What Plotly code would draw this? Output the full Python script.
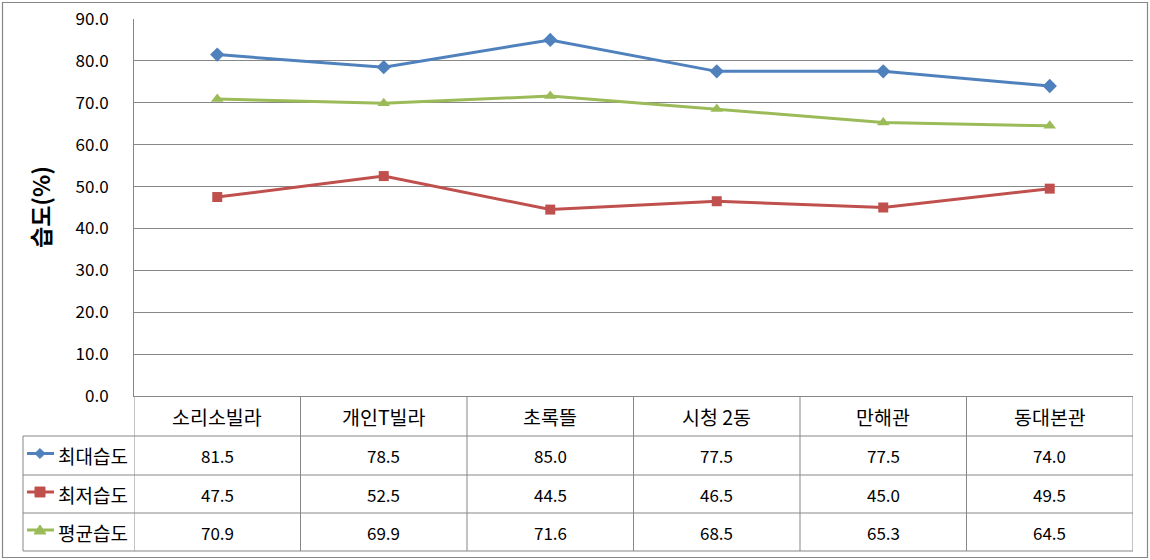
import plotly.graph_objects as go

categories = ["소리소빌라", "개인T빌라", "초록뜰", "시청 2동", "만해관", "동대본관"]
series_names = ["최대습도", "최저습도", "평균습도"]
max_humidity = [81.5, 78.5, 85.0, 77.5, 77.5, 74.0]
min_humidity = [47.5, 52.5, 44.5, 46.5, 45.0, 49.5]
avg_humidity = [70.9, 69.9, 71.6, 68.5, 65.3, 64.5]
y_tick_values = [0, 10, 20, 30, 40, 50, 60, 70, 80, 90]
y_title = "습도(%)"

W, H = 1150, 560
L, R, T, B = 134, 17, 19, 164
PW, PH = W - L - R, H - T - B
FONT = "Noto Sans CJK KR, Malgun Gothic, sans-serif"
GRID = "#878787"
colors = ["#4F81BD", "#C0504D", "#9BBB59"]
symbols = ["diamond", "square", "triangle-up"]
marker_sizes = [11, 10, 11]
series_values = [max_humidity, min_humidity, avg_humidity]


def px(x):
    return (x - L) / PW


def py(y):
    return (H - B - y) / PH


fig = go.Figure()
xs = list(range(len(categories)))
for name, vals, c, s, ms in zip(series_names, series_values, colors, symbols, marker_sizes):
    fig.add_trace(go.Scatter(
        x=xs, y=vals, name=name, mode="lines+markers",
        line=dict(color=c, width=3),
        marker=dict(symbol=s, size=ms, color=c),
        cliponaxis=False,
    ))

shapes = []
row_y = [396, 436, 475, 513, 551]
table_left = 23
for y in row_y[1:]:
    shapes.append(dict(type="line", xref="paper", yref="paper",
                       x0=px(table_left), x1=1, y0=py(y), y1=py(y),
                       line=dict(color=GRID, width=1)))
for i in range(len(categories) + 1):
    shapes.append(dict(type="line", xref="x", yref="paper",
                       x0=i - 0.5, x1=i - 0.5, y0=py(row_y[0]), y1=py(row_y[-1]),
                       line=dict(color=GRID, width=1)))
shapes.append(dict(type="line", xref="paper", yref="paper",
                   x0=px(table_left), x1=px(table_left), y0=py(row_y[1]), y1=py(row_y[-1]),
                   line=dict(color=GRID, width=1)))
shapes.append(dict(type="rect", xref="paper", yref="paper",
                   x0=px(2.5), x1=px(1147.5), y0=py(2.5), y1=py(557.5),
                   line=dict(color=GRID, width=1.2), fillcolor="rgba(0,0,0,0)"))

annotations = []
for i, cat in enumerate(categories):
    annotations.append(dict(x=i, y=py((row_y[0] + row_y[1]) / 2), xref="x", yref="paper",
                            xanchor="center", yanchor="middle",
                            text=cat, showarrow=False,
                            font=dict(family=FONT, size=19.5, color="#000")))
for r, (name, vals, c, s) in enumerate(zip(series_names, series_values, colors, symbols)):
    yc = (row_y[r + 1] + row_y[r + 2]) / 2
    for i, v in enumerate(vals):
        annotations.append(dict(x=i, y=py(yc), xref="x", yref="paper",
                                xanchor="center", yanchor="middle",
                                text=f"{v:.1f}", showarrow=False,
                                font=dict(family=FONT, size=17, color="#000")))
    annotations.append(dict(x=px(56), y=py(yc), xref="paper", yref="paper",
                            xanchor="left", yanchor="middle", text=name, showarrow=False,
                            font=dict(family=FONT, size=19, color="#000")))
    cx, cy = 40, yc - 2
    shapes.append(dict(type="line", xref="paper", yref="paper",
                       x0=px(27), x1=px(54), y0=py(cy), y1=py(cy),
                       line=dict(color=c, width=3)))
    if s == "diamond":
        pts = [(cx, cy - 5), (cx + 5, cy), (cx, cy + 5), (cx - 5, cy)]
    elif s == "square":
        pts = [(cx - 5, cy - 5), (cx + 5, cy - 5), (cx + 5, cy + 5), (cx - 5, cy + 5)]
    else:
        pts = [(cx, cy - 5), (cx + 6, cy + 4), (cx - 6, cy + 4)]
    path = "M " + " L ".join(f"{px(a):.5f},{py(b):.5f}" for a, b in pts) + " Z"
    shapes.append(dict(type="path", xref="paper", yref="paper", path=path,
                       fillcolor=c, line=dict(color=c, width=1)))

annotations.append(dict(x=px(40), y=py(207), xref="paper", yref="paper",
                        xanchor="center", yanchor="middle",
                        text=f"<b>{y_title}</b>", textangle=-90, showarrow=False,
                        font=dict(family=FONT, size=23, color="#000")))

fig.update_layout(
    width=W, height=H,
    margin=dict(l=L, r=R, t=T, b=B, pad=0, autoexpand=False),
    paper_bgcolor="white", plot_bgcolor="white",
    showlegend=False,
    shapes=shapes, annotations=annotations,
    xaxis=dict(range=[-0.5, len(categories) - 0.5], showticklabels=False,
               showgrid=False, zeroline=False, showline=True, linecolor=GRID,
               linewidth=1, ticks="", fixedrange=True, automargin=False),
    yaxis=dict(range=[0, 90], tickvals=y_tick_values,
               ticktext=[f"{v:.1f}" for v in y_tick_values],
               showgrid=True, gridcolor=GRID, gridwidth=1, zeroline=False,
               showline=True, linecolor=GRID, linewidth=1, ticks="",
               ticklabelstandoff=21, automargin=False,
               tickfont=dict(family=FONT, size=17, color="#000"), fixedrange=True),
)

fig.write_html("out.html", config={"displayModeBar": False},
               post_script="document.body.style.margin='0px';document.body.style.overflow='hidden';")
